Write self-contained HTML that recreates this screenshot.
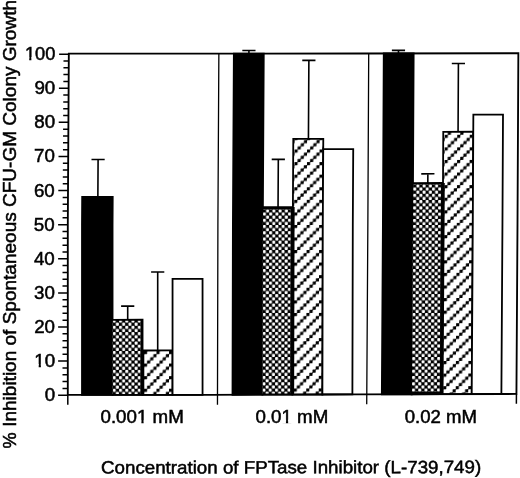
<!DOCTYPE html>
<html><head><meta charset="utf-8"><title>Figure</title>
<style>html,body{margin:0;padding:0;background:#fff}svg{display:block}</style></head>
<body>
<svg width="520" height="478" viewBox="0 0 520 478" font-family="'Liberation Sans', Arial, Helvetica, sans-serif" font-size="17" fill="#000">
<defs>
<pattern id="chk0" width="6.256" height="6.294" patternUnits="userSpaceOnUse" x="294.100" y="212.530">
<rect width="6.256" height="6.294" fill="#000"/>
<rect x="0.089" y="0.098" width="2.950" height="2.950" rx="0.8" fill="#fff"/>
<rect x="3.217" y="3.245" width="2.950" height="2.950" rx="0.8" fill="#fff"/>
</pattern>
<pattern id="hat0" width="12.512" height="12.588" patternUnits="userSpaceOnUse" x="294.100" y="212.530">
<rect width="12.512" height="12.588" fill="#fff"/>
<rect x="-0.011" y="-0.002" width="3.150" height="3.150" rx="0.45" fill="#000"/>
<rect x="3.117" y="9.439" width="3.150" height="3.150" rx="0.45" fill="#000"/>
<rect x="6.245" y="6.292" width="3.150" height="3.150" rx="0.45" fill="#000"/>
<rect x="9.373" y="3.145" width="3.150" height="3.150" rx="0.45" fill="#000"/>
<path d="M1.564 14.161 L14.076 1.573 M-1.564 4.720 L4.692 -1.573" stroke="#000" stroke-width="0.85"/>
</pattern>
<pattern id="chk1" width="6.256" height="6.294" patternUnits="userSpaceOnUse" x="294.100" y="212.530">
<rect width="6.256" height="6.294" fill="#000"/>
<rect x="0.089" y="0.098" width="2.950" height="2.950" rx="0.8" fill="#fff"/>
<rect x="3.217" y="3.245" width="2.950" height="2.950" rx="0.8" fill="#fff"/>
</pattern>
<pattern id="hat1" width="12.512" height="12.588" patternUnits="userSpaceOnUse" x="294.100" y="212.530">
<rect width="12.512" height="12.588" fill="#fff"/>
<rect x="-0.011" y="-0.002" width="3.150" height="3.150" rx="0.45" fill="#000"/>
<rect x="3.117" y="9.439" width="3.150" height="3.150" rx="0.45" fill="#000"/>
<rect x="6.245" y="6.292" width="3.150" height="3.150" rx="0.45" fill="#000"/>
<rect x="9.373" y="3.145" width="3.150" height="3.150" rx="0.45" fill="#000"/>
<path d="M1.564 14.161 L14.076 1.573 M-1.564 4.720 L4.692 -1.573" stroke="#000" stroke-width="0.85"/>
</pattern>
<pattern id="chk2" width="6.256" height="6.294" patternUnits="userSpaceOnUse" x="294.100" y="212.930">
<rect width="6.256" height="6.294" fill="#000"/>
<rect x="0.089" y="0.098" width="2.950" height="2.950" rx="0.8" fill="#fff"/>
<rect x="3.217" y="3.245" width="2.950" height="2.950" rx="0.8" fill="#fff"/>
</pattern>
<pattern id="hat2" width="12.512" height="12.588" patternUnits="userSpaceOnUse" x="294.100" y="210.633">
<rect width="12.512" height="12.588" fill="#fff"/>
<rect x="-0.011" y="-0.002" width="3.150" height="3.150" rx="0.45" fill="#000"/>
<rect x="3.117" y="9.439" width="3.150" height="3.150" rx="0.45" fill="#000"/>
<rect x="6.245" y="6.292" width="3.150" height="3.150" rx="0.45" fill="#000"/>
<rect x="9.373" y="3.145" width="3.150" height="3.150" rx="0.45" fill="#000"/>
<path d="M1.564 14.161 L14.076 1.573 M-1.564 4.720 L4.692 -1.573" stroke="#000" stroke-width="0.85"/>
</pattern>
<g id="plot" stroke="#000" stroke-width="1.8" fill="none">
<g>
<path stroke-width="1.6" d="M97.70 196.96 V159.43 M91.10 159.43 H104.30"/>
<rect x="82.00" y="196.96" width="30.55" height="197.89" fill="#000"/>
<path stroke-width="1.6" d="M127.70 319.79 V306.14 M121.10 306.14 H134.30"/>
<rect x="112.55" y="319.79" width="30.00" height="75.06" fill="#000"/>
<rect x="112.68" y="320.69" width="28.15" height="73.26" fill="url(#chk0)" stroke="none"/>
<path stroke-width="1.6" d="M157.70 350.50 V272.02 M151.10 272.02 H164.30"/>
<rect x="142.55" y="350.50" width="30.00" height="44.35" fill="url(#hat0)"/>
<rect x="172.55" y="278.85" width="30.00" height="116.00" fill="#fff"/>
<path stroke-width="3.6" d="M142.50 350.50 V394.85"/>
</g>
<g>
<path stroke-width="1.6" d="M247.95 53.66 V50.59 M241.35 50.59 H254.55"/>
<rect x="232.90" y="53.66" width="29.90" height="341.19" fill="#000"/>
<path stroke-width="1.6" d="M277.95 207.20 V159.43 M271.35 159.43 H284.55"/>
<rect x="262.80" y="207.20" width="30.00" height="187.65" fill="#000"/>
<rect x="262.90" y="209.38" width="28.07" height="184.57" fill="url(#chk1)" stroke="none"/>
<path stroke-width="1.6" d="M307.95 138.96 V60.48 M301.35 60.48 H314.55"/>
<rect x="292.80" y="138.96" width="30.00" height="255.89" fill="url(#hat1)"/>
<rect x="322.80" y="149.19" width="30.00" height="245.66" fill="#fff"/>
<path stroke-width="3.6" d="M292.75 207.20 V394.85"/>
</g>
<g>
<path stroke-width="1.6" d="M397.60 53.66 V50.59 M391.00 50.59 H404.20"/>
<rect x="382.90" y="53.66" width="29.90" height="341.19" fill="#000"/>
<path stroke-width="1.6" d="M427.60 183.31 V174.10 M421.00 174.10 H434.20"/>
<rect x="412.80" y="183.31" width="30.00" height="211.54" fill="#000"/>
<rect x="412.96" y="184.61" width="28.15" height="207.70" fill="url(#chk2)" stroke="none"/>
<path stroke-width="1.6" d="M457.60 132.13 V63.90 M451.00 63.90 H464.20"/>
<rect x="442.80" y="132.13" width="30.00" height="262.72" fill="url(#hat2)"/>
<rect x="472.80" y="115.07" width="29.65" height="279.78" fill="#fff"/>
<path stroke-width="3.6" d="M442.75 183.31 V394.85"/>
</g>
<path stroke-width="1.85" d="M67.80 53.66 H517.50 V394.85 H67.80 Z"/>
<path stroke-width="1.3" d="M217.90 53.66 V404.75 M367.85 53.66 V404.75"/>
<path stroke-width="1.5" d="M67.80 394.85 V404.75 M517.50 394.85 V404.75"/>
<path stroke-width="1.5" d="M58.10 395.20 H67.80 M62.50 388.38 H67.80 M62.50 381.56 H67.80 M62.50 374.74 H67.80 M62.50 367.92 H67.80 M58.10 361.09 H67.80 M62.50 354.27 H67.80 M62.50 347.45 H67.80 M62.50 340.63 H67.80 M62.50 333.81 H67.80 M58.10 326.99 H67.80 M62.50 320.17 H67.80 M62.50 313.35 H67.80 M62.50 306.53 H67.80 M62.50 299.71 H67.80 M58.10 292.88 H67.80 M62.50 286.06 H67.80 M62.50 279.24 H67.80 M62.50 272.42 H67.80 M62.50 265.60 H67.80 M58.10 258.78 H67.80 M62.50 251.96 H67.80 M62.50 245.14 H67.80 M62.50 238.32 H67.80 M62.50 231.50 H67.80 M58.10 224.67 H67.80 M62.50 217.85 H67.80 M62.50 211.03 H67.80 M62.50 204.21 H67.80 M62.50 197.39 H67.80 M58.10 190.57 H67.80 M62.50 183.75 H67.80 M62.50 176.93 H67.80 M62.50 170.11 H67.80 M62.50 163.29 H67.80 M58.10 156.47 H67.80 M62.50 149.64 H67.80 M62.50 142.82 H67.80 M62.50 136.00 H67.80 M62.50 129.18 H67.80 M58.10 122.36 H67.80 M62.50 115.54 H67.80 M62.50 108.72 H67.80 M62.50 101.90 H67.80 M62.50 95.08 H67.80 M58.10 88.25 H67.80 M62.50 81.43 H67.80 M62.50 74.61 H67.80 M62.50 67.79 H67.80 M62.50 60.97 H67.80 M58.10 54.15 H67.80"/>
</g>
<clipPath id="c00"><rect x="0" y="0" width="210" height="225"/></clipPath>
<clipPath id="c01"><rect x="0" y="225" width="210" height="253"/></clipPath>
<clipPath id="c10"><rect x="210" y="0" width="150" height="225"/></clipPath>
<clipPath id="c11"><rect x="210" y="225" width="150" height="253"/></clipPath>
<clipPath id="c20"><rect x="360" y="0" width="160" height="225"/></clipPath>
<clipPath id="c21"><rect x="360" y="225" width="160" height="253"/></clipPath>
</defs>
<rect width="520" height="478" fill="#fff"/>
<g clip-path="url(#c00)"><use href="#plot" transform="matrix(1 0.000000 -0.006000 1 1.3500 0.0000)"/></g>
<g clip-path="url(#c01)"><use href="#plot" transform="matrix(1 -0.000331 0.000000 1 -0.0000 0.0225)"/></g>
<g clip-path="url(#c10)"><use href="#plot" transform="matrix(1 -0.001000 -0.005600 1 1.2600 0.2100)"/></g>
<g clip-path="url(#c11)"><use href="#plot" transform="matrix(1 -0.002553 -0.002400 1 0.5400 0.4892)"/></g>
<g clip-path="url(#c20)"><use href="#plot" transform="matrix(1 -0.001975 -0.005000 1 1.1250 0.5608)"/></g>
<g clip-path="url(#c21)"><use href="#plot" transform="matrix(1 -0.002994 -0.006300 1 1.4175 0.6477)"/></g>
<g id="ylabels" text-anchor="end" stroke="#000" stroke-width="0.5" font-size="18">
<text transform="translate(55.20 401.20) scale(1.040 1)">0</text>
<text transform="translate(55.08 367.09) scale(1.040 1)">10</text>
<rect class="ft" transform="translate(55.08 367.09) scale(1.040 1)" x="-19.75" y="-3.04" width="3.99" height="4.04" fill="#fff" stroke="none"/>
<rect class="ft" transform="translate(55.08 367.09) scale(1.040 1)" x="-13.63" y="-3.04" width="3.85" height="4.04" fill="#fff" stroke="none"/>
<text transform="translate(54.96 332.99) scale(1.040 1)">20</text>
<text transform="translate(54.84 298.88) scale(1.040 1)">30</text>
<text transform="translate(54.72 264.78) scale(1.040 1)">40</text>
<text transform="translate(54.60 230.67) scale(1.040 1)">50</text>
<text transform="translate(54.75 196.57) scale(1.040 1)">60</text>
<text transform="translate(54.90 162.47) scale(1.040 1)">70</text>
<text transform="translate(55.06 128.36) scale(1.040 1)">80</text>
<text transform="translate(55.21 94.25) scale(1.040 1)">90</text>
<text transform="translate(55.36 60.15) scale(1.015 1)">100</text>
<rect class="ft" transform="translate(55.36 60.15) scale(1.015 1)" x="-29.75" y="-3.04" width="3.99" height="4.04" fill="#fff" stroke="none"/>
<rect class="ft" transform="translate(55.36 60.15) scale(1.015 1)" x="-23.63" y="-3.04" width="3.85" height="4.04" fill="#fff" stroke="none"/>
</g>
<g id="xlabels" stroke="#000" stroke-width="0.5" font-size="17.5">
<text x="100.50" y="423.40" textLength="83.30" lengthAdjust="spacingAndGlyphs">0.001 mM</text>
<rect class="ft" x="137.28" y="420.39" width="4.12" height="4.01" fill="#fff" stroke="none"/>
<rect class="ft" x="143.60" y="420.39" width="3.97" height="4.01" fill="#fff" stroke="none"/>
<text x="255.50" y="422.70" textLength="72.80" lengthAdjust="spacingAndGlyphs">0.01 mM</text>
<rect class="ft" x="281.83" y="419.69" width="4.12" height="4.01" fill="#fff" stroke="none"/>
<rect class="ft" x="288.14" y="419.69" width="3.97" height="4.01" fill="#fff" stroke="none"/>
<text x="404.80" y="422.80" textLength="72.20" lengthAdjust="spacingAndGlyphs">0.02 mM</text>
</g>
<text transform="translate(101 473.6) rotate(-0.08)" stroke="#000" stroke-width="0.5" font-size="17.8" textLength="380.2" lengthAdjust="spacingAndGlyphs">Concentration of FPTase Inhibitor (L-739,749)</text>
<g id="ytitle" stroke="#000" stroke-width="0.5" font-size="17.8">
<text transform="translate(15.8 448.5) rotate(-90)" textLength="16.1" lengthAdjust="spacingAndGlyphs">%</text>
<text transform="translate(15.8 426.82) rotate(-90)" textLength="426.82" lengthAdjust="spacingAndGlyphs">Inhibition of Spontaneous CFU-GM Colony Growth</text>
</g>
</svg>
</body></html>
